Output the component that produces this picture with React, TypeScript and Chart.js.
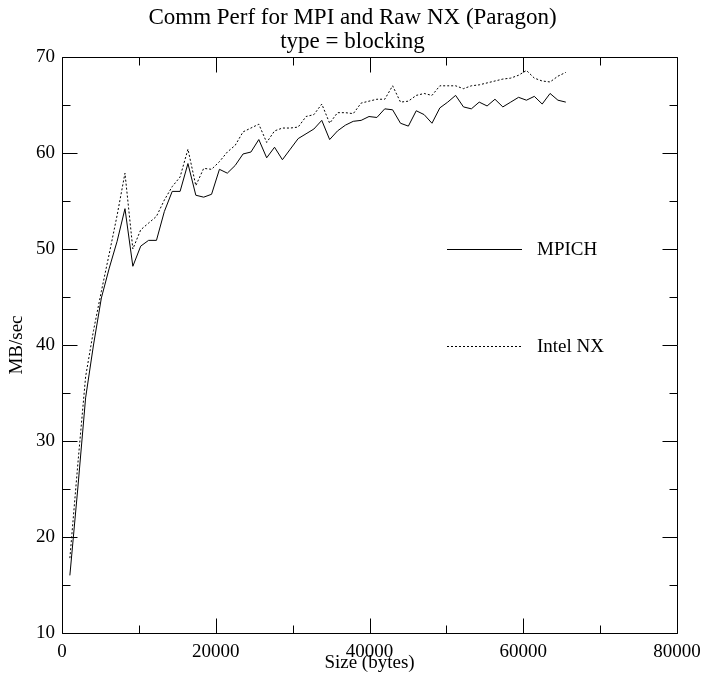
import React, { useEffect, useRef } from "react";
import { Chart, registerables } from "chart.js";

Chart.register(...registerables);

// Message sizes (bytes)
const sizes = [
  1024, 2048, 3072, 4096, 5120, 6144, 7168, 8192, 9216, 10240,
  11264, 12288, 13312, 14336, 15360, 16384, 17408, 18432, 19456, 20480,
  21504, 22528, 23552, 24576, 25600, 26624, 27648, 28672, 29696, 30720,
  31744, 32768, 33792, 34816, 35840, 36864, 37888, 38912, 39936, 40960,
  41984, 43008, 44032, 45056, 46080, 47104, 48128, 49152, 50176, 51200,
  52224, 53248, 54272, 55296, 56320, 57344, 58368, 59392, 60416, 61440,
  62464, 63488, 64512, 65536,
];

// MB/sec, MPICH
const mpich = [
  16.0, 25.0, 34.5, 40.0, 44.9, 48.0, 50.8, 54.2, 48.2, 50.3,
  50.9, 50.9, 53.9, 56.0, 56.0, 58.9, 55.6, 55.4, 55.7, 58.3,
  57.9, 58.7, 59.9, 60.1, 61.4, 59.5, 60.6, 59.3, 60.4, 61.5,
  62.0, 62.5, 63.4, 61.4, 62.3, 62.9, 63.3, 63.4, 63.8, 63.7,
  64.6, 64.5, 63.1, 62.8, 64.4, 64.0, 63.1, 64.7, 65.3, 66.0,
  64.8, 64.6, 65.3, 64.9, 65.6, 64.8, 65.3, 65.8, 65.5, 65.9,
  65.1, 66.2, 65.5, 65.3,
];

// MB/sec, Intel NX
const intelNX = [
  17.8, 27.5, 36.7, 41.5, 45.6, 49.5, 53.5, 57.9, 50.0, 52.0,
  52.7, 53.4, 55.1, 56.5, 57.5, 60.4, 56.6, 58.4, 58.3, 59.1,
  60.1, 60.8, 62.2, 62.6, 63.0, 61.1, 62.3, 62.6, 62.6, 62.7,
  63.8, 64.0, 65.1, 63.1, 64.2, 64.2, 64.1, 65.2, 65.4, 65.6,
  65.6, 67.0, 65.3, 65.4, 66.0, 66.2, 66.0, 67.0, 67.0, 67.0,
  66.7, 67.0, 67.1, 67.3, 67.5, 67.7, 67.8, 68.1, 68.6, 67.8,
  67.5, 67.4, 68.0, 68.4,
];

const seriesLabels = ["MPICH", "Intel NX"];
const titleLines = ["Comm Perf for MPI and Raw NX (Paragon)", "type = blocking"];
const xTitle = "Size (bytes)";
const yTitle = "MB/sec";

const xMajorTicks = [0, 20000, 40000, 60000, 80000];
const xMinorTicks = [10000, 30000, 50000, 70000];
const yMajorTicks = [10, 20, 30, 40, 50, 60, 70];
const yMinorTicks = [15, 25, 35, 45, 55, 65];

const FONT = "'Liberation Serif', 'Times New Roman', serif";

const framePlugin = {
  id: "frame",
  afterDraw(chart: any) {
    const { ctx, chartArea: a, scales } = chart;
    const xs = scales.x;
    const ys = scales.y;
    const L = Math.round(a.left) + 0.5;
    const R = Math.round(a.right) + 0.5;
    const T = Math.round(a.top) + 0.5;
    const B = Math.round(a.bottom) + 0.5;
    ctx.save();
    ctx.strokeStyle = "#000";
    ctx.lineWidth = 1;
    ctx.beginPath();
    ctx.rect(L, T, R - L, B - T);
    const major = 15;
    const minor = 8;
    const xt = (v: number, len: number) => {
      const p = Math.round(xs.getPixelForValue(v)) + 0.5;
      ctx.moveTo(p, B);
      ctx.lineTo(p, B - len);
      ctx.moveTo(p, T);
      ctx.lineTo(p, T + len);
    };
    const yt = (v: number, len: number) => {
      const p = Math.round(ys.getPixelForValue(v)) + 0.5;
      ctx.moveTo(L, p);
      ctx.lineTo(L + len, p);
      ctx.moveTo(R, p);
      ctx.lineTo(R - len, p);
    };
    xMajorTicks.forEach((v) => xt(v, major));
    xMinorTicks.forEach((v) => xt(v, minor));
    yMajorTicks.forEach((v) => yt(v, major));
    yMinorTicks.forEach((v) => yt(v, minor));
    ctx.stroke();

    // Titles
    ctx.fillStyle = "#000";
    ctx.textAlign = "center";
    ctx.textBaseline = "middle";
    ctx.font = `23px ${FONT}`;
    ctx.fillText(titleLines[0], chart.width / 2, 18);
    ctx.fillText(titleLines[1], chart.width / 2, 42);

    // Legend inside plot
    const lx0 = 447;
    const lx1 = 522;
    const legendY = [ys.getPixelForValue(50), ys.getPixelForValue(39.9)];
    ctx.font = `19px ${FONT}`;
    ctx.textAlign = "left";
    chart.data.datasets.forEach((ds: any, i: number) => {
      const yy = Math.round(legendY[i]) + 0.5;
      ctx.beginPath();
      ctx.setLineDash(ds.borderDash || []);
      ctx.moveTo(lx0, yy);
      ctx.lineTo(lx1, yy);
      ctx.stroke();
      ctx.setLineDash([]);
      ctx.fillText(ds.label, 537, yy + 1);
    });
    ctx.restore();
  },
};

export default function App() {
  const ref = useRef<HTMLCanvasElement | null>(null);
  useEffect(() => {
    if (!ref.current) return;
    const tickFont = { family: FONT, size: 19 };
    const chart = new Chart(ref.current, {
      type: "line",
      data: {
        datasets: [
          {
            label: seriesLabels[0],
            data: sizes.map((s, i) => ({ x: s, y: mpich[i] })),
            borderColor: "#000",
            borderWidth: 1,
            pointRadius: 0,
            tension: 0,
            fill: false,
          },
          {
            label: seriesLabels[1],
            data: sizes.map((s, i) => ({ x: s, y: intelNX[i] })),
            borderColor: "#000",
            borderWidth: 1,
            borderDash: [2, 2],
            pointRadius: 0,
            tension: 0,
            fill: false,
          },
        ],
      },
      options: {
        responsive: false,
        animation: false,
        layout: { padding: { top: 57, right: 28, bottom: 0, left: 0 } },
        plugins: {
          legend: { display: false },
          title: { display: false },
          tooltip: { enabled: false },
        },
        scales: {
          x: {
            type: "linear",
            min: 0,
            max: 80000,
            afterFit(s: any) {
              s.height = 40;
              s.paddingLeft = 0;
              s.paddingRight = 0;
            },
            grid: { display: false, drawTicks: false },
            border: { display: false },
            ticks: {
              stepSize: 20000,
              autoSkip: false,
              maxRotation: 0,
              padding: 8,
              color: "#000",
              font: tickFont,
              callback: (v: any) => String(v),
            },
            title: {
              display: true,
              text: xTitle,
              color: "#000",
              font: { family: FONT, size: 19, lineHeight: 1.0 },
              padding: { top: 0, bottom: 0 },
            },
          },
          y: {
            type: "linear",
            min: 10,
            max: 70,
            afterFit(s: any) {
              s.width = 62;
              s.paddingTop = 0;
              s.paddingBottom = 0;
            },
            grid: { display: false, drawTicks: false },
            border: { display: false },
            ticks: {
              stepSize: 10,
              autoSkip: false,
              padding: 7,
              color: "#000",
              font: tickFont,
              callback: (v: any) => String(v),
            },
            title: {
              display: true,
              text: yTitle,
              color: "#000",
              font: { family: FONT, size: 19, lineHeight: 1.0 },
              padding: { top: 8, bottom: 0 },
            },
          },
        },
      },
      plugins: [framePlugin],
    });
    return () => chart.destroy();
  }, []);
  return (
    <div style={{ position: "absolute", left: 0, top: 0, width: 705, height: 673, background: "#fff" }}>
      <canvas ref={ref} width={705} height={673} style={{ display: "block" }} />
    </div>
  );
}
